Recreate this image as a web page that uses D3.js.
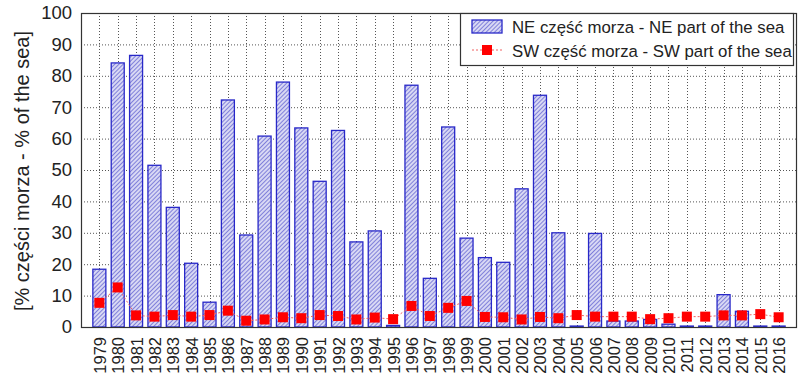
<!DOCTYPE html>
<html><head><meta charset="utf-8">
<script src="https://cdn.jsdelivr.net/npm/d3@7"></script>
<style>
html,body{margin:0;padding:0;background:#fff;}
svg{display:block;font-family:"Liberation Sans",Arial,sans-serif;}
</style></head>
<body><svg id="c" width="803" height="383"></svg>
<script>
const years = d3.range(1979, 2017);
const neValues = [18.4,84.1,86.5,51.5,38.1,20.3,7.9,72.3,29.3,60.8,78.0,63.4,46.4,62.6,27.1,30.6,0.5,77.0,15.5,63.7,28.3,22.1,20.6,44.0,73.8,30.0,0.3,29.8,1.9,1.9,2.4,0.9,0.3,0.3,10.3,5.0,0.3,0.3];
const swValues = [7.7,12.6,3.7,3.3,3.8,3.3,3.8,5.2,2.0,2.4,3.1,2.8,3.8,3.5,2.4,3.0,2.5,6.7,3.5,6.1,8.3,3.2,3.1,2.4,3.2,2.8,3.8,3.3,3.3,3.3,2.5,2.8,3.3,3.3,3.7,3.7,4.1,3.1];
const yTicks = [0,10,20,30,40,50,60,70,80,90,100];
const neLabel = "NE część morza - NE part of the sea";
const swLabel = "SW część morza - SW part of the sea";
const yTitle = "[% części morza - % of the sea]";

const svg = d3.select("#c");
const L = 81, R = 797, T = 13, B = 327;
const x = d3.scaleLinear().domain([1978, 2017]).range([L, R]);
const y = d3.scaleLinear().domain([0, 100]).range([B, T]);
const barW = 13;

const defs = svg.append("defs");
const pat = defs.append("pattern").attr("id","hatch").attr("patternUnits","userSpaceOnUse")
  .attr("width",3).attr("height",3).attr("patternTransform","rotate(45)");
pat.append("rect").attr("width",3).attr("height",3).attr("fill","#d8d8f4");
pat.append("line").attr("x1",0).attr("y1",0).attr("x2",0).attr("y2",3)
  .attr("stroke","#5050cc").attr("stroke-width",1.3);

// grid
const g = svg.append("g");
g.selectAll("line.hg").data(yTicks.filter(d=>d>0&&d<100)).join("line")
  .attr("x1",L).attr("x2",R).attr("y1",d=>y(d)+0.5).attr("y2",d=>y(d)+0.5)
  .attr("stroke","#555").attr("stroke-width",1).attr("stroke-dasharray","1,2");
g.selectAll("line.vg").data(years).join("line")
  .attr("x1",d=>Math.round(x(d))+0.5).attr("x2",d=>Math.round(x(d))+0.5).attr("y1",T).attr("y2",B)
  .attr("stroke","#555").attr("stroke-width",1).attr("stroke-dasharray","1,2");

// bars
svg.append("g").selectAll("rect").data(years).join("rect")
  .attr("x",d=>x(d)-barW/2).attr("width",barW)
  .attr("y",(d,i)=>y(neValues[i])).attr("height",(d,i)=>B-y(neValues[i]))
  .attr("fill","url(#hatch)").attr("stroke","#2828c8").attr("stroke-width",1.3);

// SW line + markers
const line = d3.line().x((d,i)=>x(years[i])).y(d=>y(d));
svg.append("path").datum(swValues).attr("d",line).attr("fill","none")
  .attr("stroke","#f06060").attr("stroke-width",1).attr("stroke-dasharray","2,2");
svg.append("g").selectAll("rect").data(swValues).join("rect")
  .attr("x",(d,i)=>x(years[i])-5).attr("y",d=>y(d)-5).attr("width",10).attr("height",10)
  .attr("fill","#ff0000");

// frame
svg.append("rect").attr("x",L+0.5).attr("y",T+0.5).attr("width",R-L-1).attr("height",B-T)
  .attr("fill","none").attr("stroke","#333").attr("stroke-width",1.2);

// y axis
const yAxis = d3.axisLeft(y).tickValues(yTicks).tickSize(0).tickPadding(9);
const ya = svg.append("g").attr("transform",`translate(${L},0)`).call(yAxis);
ya.select(".domain").remove();
ya.selectAll("text").attr("font-size",18.5).attr("fill","#222").attr("font-family","Liberation Sans, Arial, sans-serif");

// x axis
const xAxis = d3.axisBottom(x).tickValues(years).tickFormat(d3.format("d")).tickSize(0);
const xa = svg.append("g").attr("transform",`translate(0,${B})`).call(xAxis);
xa.select(".domain").remove();
xa.selectAll("text").attr("font-size",16.5).attr("fill","#222").attr("font-family","Liberation Sans, Arial, sans-serif")
  .attr("text-anchor","end").attr("dy",null).attr("y",0)
  .attr("transform","translate(6,10) rotate(-90)");

// y title
svg.append("text").attr("transform",`translate(29,${(T+B)/2+1}) rotate(-90)`)
  .attr("text-anchor","middle").attr("font-size",20).attr("fill","#222").text(yTitle);

// legend
const lg = svg.append("g");
lg.append("rect").attr("x",460.5).attr("y",T+0.5).attr("width",333).attr("height",52)
  .attr("fill","#fff").attr("stroke","#333").attr("stroke-width",1.2);
lg.append("rect").attr("x",472).attr("y",20).attr("width",30).attr("height",13)
  .attr("fill","url(#hatch)").attr("stroke","#2828c8").attr("stroke-width",1.3);
lg.append("text").attr("x",512).attr("y",33).attr("font-size",16.8).attr("fill","#222").text(neLabel);
lg.append("line").attr("x1",472).attr("x2",502).attr("y1",50).attr("y2",50)
  .attr("stroke","#f06060").attr("stroke-dasharray","2,2");
lg.append("rect").attr("x",482).attr("y",45).attr("width",10).attr("height",10).attr("fill","#ff0000");
lg.append("text").attr("x",512).attr("y",57).attr("font-size",16.8).attr("fill","#222").text(swLabel);
</script></body></html>
